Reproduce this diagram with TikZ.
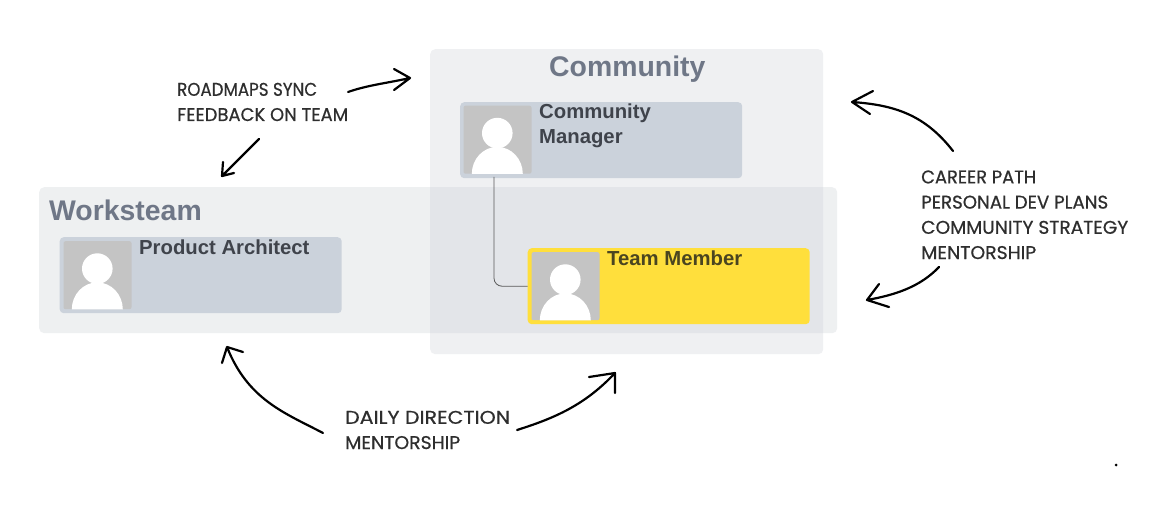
\documentclass[tikz,border=0pt]{standalone}
\usepackage{fontspec}
\usepackage{graphicx}
\setmainfont{Liberation Sans}
\newfontfamily\handfont[FakeBold=0.6]{Poppins}
\usetikzlibrary{calc}
\definecolor{groupfill}{HTML}{EFF0F2}
\definecolor{overlayfill}{HTML}{CBCFD5}
\definecolor{cardfill}{HTML}{CBD2DB}
\definecolor{yellowfill}{HTML}{FFDF3C}
\definecolor{photofill}{HTML}{C4C4C4}
\definecolor{titleink}{HTML}{6F7787}
\definecolor{cardink}{HTML}{3F434B}
\definecolor{yellowink}{HTML}{4A4520}
\definecolor{handink}{HTML}{2E2E2E}
\tikzset{
  x=1pt,y=-1pt,
  groupbox/.style={fill=groupfill,rounded corners=5pt,inner sep=0pt,anchor=north west},
  cardbox/.style={fill=cardfill,rounded corners=4pt,inner sep=0pt,anchor=north west,minimum width=282pt,minimum height=76pt},
  yellowbox/.style={cardbox,fill=yellowfill},
  photobox/.style={fill=photofill,rounded corners=2pt,inner sep=0pt,anchor=north west,minimum width=68pt,minimum height=68pt},
  grouptitle/.style={font=\bfseries\fontsize{28.4}{32}\selectfont,text=titleink,inner sep=0pt,anchor=base west},
  cardtitle/.style={font=\bfseries\fontsize{20.3}{25}\selectfont,text=cardink,inner sep=0pt,anchor=base west,align=left},
  handlabel/.style={font=\handfont\fontsize{18}{25.2}\selectfont,text=handink,inner sep=0pt,anchor=base west,align=left},
  handline/.style={draw=black,line width=2.2pt,line cap=round,line join=round},
  link/.style={draw=black!65,line width=0.8pt,rounded corners=8pt},
}
% photo placeholder: node name, left, top
\newcommand{\personphoto}[3]{%
  \node[photobox] (#1) at (#2,#3) {};
  \fill[white] ($(#1.north west)+(34,27.6)$) circle[radius=15.3];
  \fill[white] ($(#1.south west)+(8.5,0)$) arc[start angle=180,end angle=360,x radius=25.5,y radius=27] -- cycle;
}
% one handwritten line, fitted to the width it has in the reference
\newcommand{\handfit}[2]{\resizebox{#1pt}{13pt}{#2}}
\begin{document}
\begin{tikzpicture}
\useasboundingbox (0,0) rectangle (1174,505);
\fill[white] (0,0) rectangle (1174,505);

\node[groupbox,minimum width=393pt,minimum height=305pt] (community) at (430,49) {};
\node[grouptitle] (communitytitle) at (549,77) {Community};

\node[cardbox] (manager) at (460,102) {};
\personphoto{managerphoto}{463.3}{105.5}
\node[cardtitle] (managertitle) at (539,144) {Community\\Manager};

\node[groupbox,fill=overlayfill,fill opacity=0.31,minimum width=798pt,minimum height=146pt] (worksteam) at (39,187) {};
\node[grouptitle] (worksteamtitle) at (49,220) {Worksteam};

\node[cardbox] (architect) at (59.5,237) {};
\personphoto{architectphoto}{63.3}{241}
\node[cardtitle] (architecttitle) at (139,254) {Product Architect};

\node[yellowbox] (member) at (527.5,248) {};
\personphoto{memberphoto}{531.3}{252}
\node[cardtitle,text=yellowink] (membertitle) at (607,265) {Team Member};

\coordinate (managertap) at (494,177);
\draw[link] (managertap) |- (member.west);

\node[handlabel] (roadmaps) at (177,121) {\handfit{140}{ROADMAPS SYNC}\\\handfit{171}{FEEDBACK ON TEAM}};
\node[handlabel] (daily) at (345,449) {\handfit{165}{DAILY DIRECTION}\\\handfit{115}{MENTORSHIP}};
\node[handlabel] (career) at (921,259) {\handfit{115}{CAREER PATH}\\\handfit{187}{PERSONAL DEV PLANS}\\\handfit{207}{COMMUNITY STRATEGY}\\\handfit{115}{MENTORSHIP}};

% hand-drawn arrows
\coordinate (a1s) at (348,92);  \coordinate (a1e) at (410,78);
\coordinate (a1b) at (394,69);  \coordinate (a1c) at (394,90);
\draw[handline] (a1s) .. controls (368,85) and (388,83) .. (a1e) (a1b) -- (a1e) -- (a1c);

\coordinate (a2s) at (259,139); \coordinate (a2e) at (222,176);
\coordinate (a2b) at (223,162); \coordinate (a2c) at (234,173);
\draw[handline] (a2s) -- (a2e) (a2b) -- (a2e) -- (a2c);

\coordinate (a3s) at (323,433); \coordinate (a3e) at (227,347);
\coordinate (a3b) at (222,363); \coordinate (a3c) at (243,352);
\draw[handline] (a3s) .. controls (285,413) and (248,400) .. (a3e) (a3b) -- (a3e) -- (a3c);

\coordinate (a4s) at (517,430); \coordinate (a4e) at (615,373);
\coordinate (a4b) at (589,377); \coordinate (a4c) at (615,393);
\draw[handline] (a4s) .. controls (555,418) and (585,405) .. (a4e) (a4b) -- (a4e) -- (a4c);

\coordinate (a5s) at (953,151); \coordinate (a5e) at (852,102);
\coordinate (a5b) at (873,91);  \coordinate (a5c) at (870,114);
\draw[handline] (a5s) .. controls (925,115) and (895,105) .. (a5e) (a5b) -- (a5e) -- (a5c);

\coordinate (a6s) at (939,267); \coordinate (a6e) at (867,300);
\coordinate (a6b) at (879,284); \coordinate (a6c) at (889,307);
\draw[handline] (a6s) .. controls (920,287) and (895,295) .. (a6e) (a6b) -- (a6e) -- (a6c);

\fill[black] (1116,465) circle[radius=1.5];
\end{tikzpicture}
\end{document}
